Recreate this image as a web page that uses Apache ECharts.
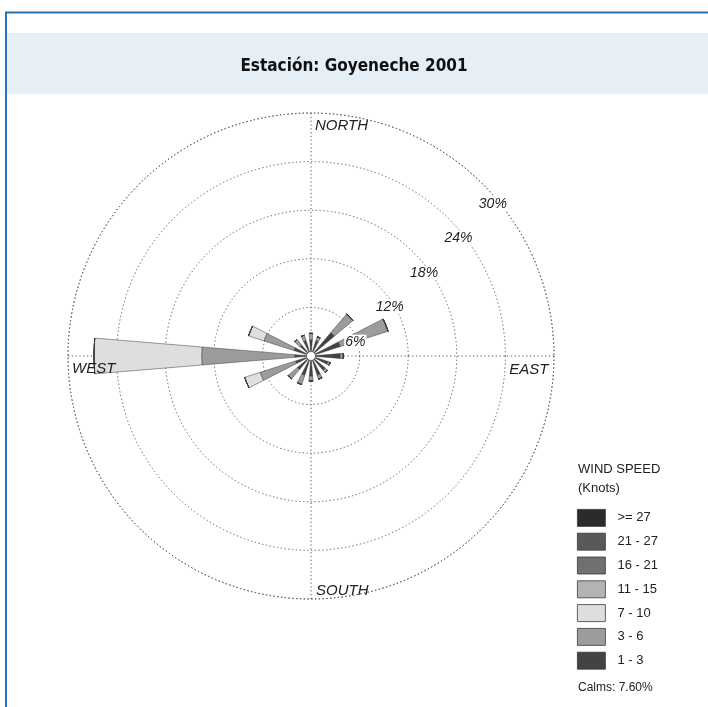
<!DOCTYPE html>
<html>
<head>
<meta charset="utf-8">
<script src="https://cdn.jsdelivr.net/npm/echarts@6/dist/echarts.min.js"></script>
<style>
  html, body { margin: 0; padding: 0; background: #ffffff; }
  #main { width: 708px; height: 707px; }
</style>
</head>
<body>
<div id="main"></div>
<script>
// Wind directions (16-point compass, clockwise from north)
const directions = ['N', 'NNE', 'NE', 'ENE', 'E', 'ESE', 'SE', 'SSE', 'S', 'SSW', 'SW', 'WSW', 'W', 'WNW', 'NW', 'NNW'];

// Frequency (%) per direction for each wind-speed class (knots)
const speed_1_3   = [2.0, 2.0, 3.8, 3.8, 3.6, 2.2, 2.3, 2.5, 2.5, 2.5, 2.2, 2.0, 2.0, 2.2, 1.8, 2.0];
const speed_3_6   = [0.8, 0.5, 3.0, 6.2, 0.4, 0.3, 0.4, 0.5, 0.6, 1.2, 1.5, 4.6, 11.5, 3.9, 0.9, 0.7];
const speed_7_10  = [0, 0, 0, 0, 0, 0, 0, 0, 0, 0, 0, 2.0, 13.3, 2.0, 0, 0];
const speed_11_15 = [0, 0, 0, 0, 0, 0, 0, 0, 0, 0, 0, 0, 0, 0, 0, 0];
const speed_16_21 = [0, 0, 0, 0, 0, 0, 0, 0, 0, 0, 0, 0, 0, 0, 0, 0];
const speed_21_27 = [0, 0, 0, 0, 0, 0, 0, 0, 0, 0, 0, 0, 0, 0, 0, 0];
const speed_27_up = [0, 0, 0, 0, 0, 0, 0, 0, 0, 0, 0, 0, 0, 0, 0, 0];

// Speed class names (inner to outer stacking order)
const classNames = ['1 - 3', '3 - 6', '7 - 10', '11 - 15', '16 - 21', '21 - 27', '>= 27'];
const classColors = ['#434343', '#9c9c9c', '#dedede', '#b3b3b3', '#707070', '#595959', '#2b2b2b'];
const classData = [speed_1_3, speed_3_6, speed_7_10, speed_11_15, speed_16_21, speed_21_27, speed_27_up];

// Ring ticks (%) and compass labels
const ringTicks = [6, 12, 18, 24, 30];
const compassNames = ['NORTH', 'EAST', 'SOUTH', 'WEST'];
const compassAngles = [0, 90, 180, 270];
const calmsPct = 7.60;

const titleText = 'Estación: Goyeneche 2001';

const CENTER = [311, 356];
const RADIUS = 243;
const dotted = { color: '#5a5a5a', width: 1, type: [1.3, 2.5] };

const chart = echarts.init(document.getElementById('main'), null, { renderer: 'canvas' });

const series = classNames.map((name, i) => ({
  name: name,
  type: 'bar',
  coordinateSystem: 'polar',
  polarIndex: 0,
  stack: 'wind',
  barWidth: '42%',
  data: classData[i],
  itemStyle: { color: classColors[i], borderColor: '#3a3a3a', borderWidth: 0.5 },
  emphasis: { disabled: true },
  z: 3
}));

chart.setOption({
  animation: false,
  backgroundColor: '#ffffff',
  title: {
    text: titleText,
    left: 'center',
    top: 53,
    textStyle: { fontFamily: 'DejaVu Sans Condensed, DejaVu Sans', fontWeight: 'bold', fontSize: 17, color: '#111111' }
  },
  legend: {
    orient: 'vertical',
    left: 577,
    top: 509,
    padding: 0,
    itemWidth: 28,
    itemHeight: 17,
    itemGap: 6,
    selectedMode: false,
    icon: 'rect',
    data: classNames.slice().reverse(),
    itemStyle: { borderColor: '#3a3a3a', borderWidth: 0.8 },
    textStyle: { fontFamily: 'Liberation Sans, Arial', fontSize: 13, lineHeight: 16, color: '#222222', padding: [0, 0, 0, 7] }
  },
  polar: [
    { center: CENTER, radius: [0, RADIUS] },
    { center: CENTER, radius: [0, RADIUS] }
  ],
  angleAxis: [
    {
      polarIndex: 0, type: 'category', data: directions,
      startAngle: 90 + 11.25, clockwise: true, boundaryGap: true,
      axisLine: { show: false }, axisTick: { show: false }, axisLabel: { show: false },
      splitLine: { show: false }
    },
    {
      polarIndex: 1, type: 'value', min: 0, max: 360, interval: 90,
      startAngle: 90, clockwise: true,
      axisLine: { show: true, lineStyle: dotted },
      axisTick: { show: false }, axisLabel: { show: false },
      splitLine: { show: true, lineStyle: dotted }
    }
  ],
  radiusAxis: [
    {
      polarIndex: 0, type: 'value', min: 0, max: 30, interval: 6,
      axisLine: { show: false }, axisTick: { show: false }, axisLabel: { show: false },
      splitLine: { show: false }
    },
    {
      polarIndex: 1, type: 'value', min: 0, max: 30, interval: 6,
      axisLine: { show: false }, axisTick: { show: false }, axisLabel: { show: false },
      splitLine: { show: true, lineStyle: dotted }
    }
  ],
  series: series
});

// Helper: polar (radius %, compass degrees) -> pixel, using the reference-grid polar
function toPx(r, deg) {
  let p = null;
  try { p = chart.convertToPixel({ polarIndex: 1 }, [r, deg]); } catch (e) { p = null; }
  if (!p || isNaN(p[0])) {
    const rad = (deg) * Math.PI / 180;
    const rr = r / 30 * RADIUS;
    p = [CENTER[0] + rr * Math.sin(rad), CENTER[1] - rr * Math.cos(rad)];
  }
  return p;
}

const graphics = [];

// Frame and title band
graphics.push({
  type: 'rect', z: -10, silent: true,
  shape: { x: 7, y: 33, width: 710, height: 61 },
  style: { fill: '#e6eef6' }
});
graphics.push({
  type: 'rect', z: 50, silent: true,
  shape: { x: 6, y: 12.5, width: 740, height: 740 },
  style: { fill: null, stroke: '#2a72b8', lineWidth: 2 }
});

// Ring percentage labels
ringTicks.forEach(v => {
  const p = toPx(v, 45);
  graphics.push({
    type: 'text', z: 100, silent: true,
    x: p[0] + 10, y: p[1] + 20,
    style: {
      text: v + '%', align: 'center', verticalAlign: 'middle',
      font: 'italic 14px "Liberation Sans", Arial', fill: '#222222',
      backgroundColor: '#ffffff', padding: [0, 1, 0, 1]
    }
  });
});

// Compass labels
const compassPlace = [
  { r: 28.4, dx: 4,  dy: 0,  align: 'left' },
  { r: 29.3, dx: 0,  dy: 14, align: 'right' },
  { r: 29.0, dx: 5,  dy: 0,  align: 'left' },
  { r: 29.5, dx: 0,  dy: 13, align: 'left' }
];
compassNames.forEach((name, i) => {
  const c = compassPlace[i];
  const p = toPx(c.r, compassAngles[i]);
  graphics.push({
    type: 'text', z: 100, silent: true,
    x: p[0] + c.dx, y: p[1] + c.dy,
    style: {
      text: name, align: c.align, verticalAlign: 'middle',
      font: 'italic 15px "Liberation Sans", Arial', fill: '#222222'
    }
  });
});

// Calm circle in the middle
const c0 = toPx(0, 0);
graphics.push({
  type: 'circle', z: 100, silent: true,
  shape: { cx: c0[0], cy: c0[1], r: 4.5 },
  style: { fill: '#ffffff', stroke: '#555555', lineWidth: 0.8 }
});

// Legend heading and calms note
graphics.push({
  type: 'text', z: 100, silent: true, x: 578, y: 460,
  style: { text: 'WIND SPEED\n(Knots)', font: '13px "Liberation Sans", Arial', fill: '#222222', lineHeight: 19 }
});
graphics.push({
  type: 'text', z: 100, silent: true, x: 578, y: 682,
  style: { text: 'Calms: ' + calmsPct.toFixed(2) + '%', font: '12px "Liberation Sans", Arial', fill: '#222222' }
});

chart.setOption({ graphic: { elements: graphics } });
</script>
</body>
</html>
